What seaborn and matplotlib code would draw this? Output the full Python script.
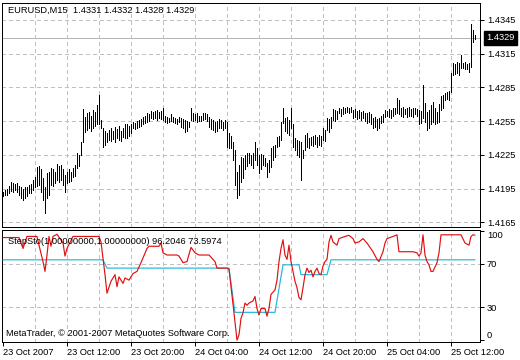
import numpy as np
import pandas as pd
import matplotlib
matplotlib.use("Agg")
import matplotlib.pyplot as plt
import seaborn as sns
from matplotlib.transforms import blended_transform_factory

# ---------------- data (EURUSD M15, one bar per 15 minutes) ----------------
bar_high = [
    1.4192, 1.4194, 1.4195, 1.4197, 1.4201, 1.4200, 1.4199, 1.4200, 1.4197, 1.4196,
    1.4195, 1.4196, 1.4196, 1.4198, 1.4199, 1.4203, 1.4205, 1.4214, 1.4215, 1.4212,
    1.4204, 1.4196, 1.4209, 1.4210, 1.4213, 1.4212, 1.4210, 1.4217, 1.4215, 1.4216,
    1.4212, 1.4207, 1.4210, 1.4212, 1.4210, 1.4213, 1.4216, 1.4227, 1.4225, 1.4236,
    1.4266, 1.4259, 1.4262, 1.4263, 1.4260, 1.4265, 1.4263, 1.4269, 1.4278, 1.4256,
    1.4249, 1.4246, 1.4244, 1.4247, 1.4249, 1.4246, 1.4250, 1.4248, 1.4251, 1.4246,
    1.4249, 1.4252, 1.4252, 1.4251, 1.4252, 1.4254, 1.4253, 1.4255, 1.4256, 1.4257,
    1.4259, 1.4260, 1.4262, 1.4261, 1.4264, 1.4263, 1.4264, 1.4265, 1.4263, 1.4264,
    1.4267, 1.4260, 1.4259, 1.4258, 1.4261, 1.4259, 1.4258, 1.4257, 1.4259, 1.4258,
    1.4257, 1.4256, 1.4255, 1.4254, 1.4267, 1.4262, 1.4261, 1.4262, 1.4260, 1.4260,
    1.4262, 1.4262, 1.4261, 1.4259, 1.4257, 1.4256, 1.4254, 1.4255, 1.4257, 1.4256,
    1.4254, 1.4256, 1.4254, 1.4244, 1.4242, 1.4236, 1.4229, 1.4210, 1.4216, 1.4223,
    1.4222, 1.4225, 1.4227, 1.4227, 1.4225, 1.4227, 1.4236, 1.4231, 1.4225, 1.4226,
    1.4225, 1.4222, 1.4218, 1.4220, 1.4231, 1.4233, 1.4234, 1.4241, 1.4242, 1.4254,
    1.4267, 1.4258, 1.4259, 1.4256, 1.4267, 1.4252, 1.4240, 1.4238, 1.4237, 1.4236,
    1.4229, 1.4243, 1.4244, 1.4240, 1.4241, 1.4242, 1.4243, 1.4241, 1.4243, 1.4242,
    1.4249, 1.4247, 1.4258, 1.4257, 1.4259, 1.4266, 1.4265, 1.4264, 1.4267, 1.4266,
    1.4268, 1.4267, 1.4268, 1.4267, 1.4268, 1.4265, 1.4266, 1.4264, 1.4265, 1.4263,
    1.4264, 1.4262, 1.4262, 1.4263, 1.4261, 1.4258, 1.4259, 1.4257, 1.4258, 1.4260,
    1.4261, 1.4265, 1.4264, 1.4266, 1.4265, 1.4267, 1.4267, 1.4276, 1.4274, 1.4267,
    1.4268, 1.4266, 1.4267, 1.4268, 1.4266, 1.4267, 1.4267, 1.4266, 1.4265, 1.4264,
    1.4287, 1.4271, 1.4263, 1.4265, 1.4269, 1.4272, 1.4267, 1.4263, 1.4270, 1.4277,
    1.4278, 1.4280, 1.4281, 1.4282, 1.4298, 1.4307, 1.4306, 1.4308, 1.4307, 1.4314,
    1.4307, 1.4308, 1.4306, 1.4307, 1.4341, 1.4336, 1.4332,
]
bar_low = [
    1.4188, 1.4189, 1.4189, 1.4191, 1.4193, 1.4192, 1.4194, 1.4192, 1.4189, 1.4187,
    1.4185, 1.4187, 1.4188, 1.4191, 1.4191, 1.4194, 1.4196, 1.4197, 1.4198, 1.4192,
    1.4185, 1.4173, 1.4187, 1.4189, 1.4198, 1.4197, 1.4200, 1.4203, 1.4201, 1.4203,
    1.4198, 1.4192, 1.4200, 1.4201, 1.4202, 1.4205, 1.4206, 1.4213, 1.4215, 1.4225,
    1.4236, 1.4245, 1.4247, 1.4249, 1.4246, 1.4249, 1.4251, 1.4252, 1.4252, 1.4249,
    1.4232, 1.4234, 1.4236, 1.4238, 1.4237, 1.4239, 1.4236, 1.4240, 1.4238, 1.4237,
    1.4241, 1.4240, 1.4240, 1.4242, 1.4244, 1.4249, 1.4248, 1.4249, 1.4250, 1.4251,
    1.4252, 1.4253, 1.4254, 1.4255, 1.4258, 1.4257, 1.4258, 1.4256, 1.4258, 1.4257,
    1.4256, 1.4254, 1.4253, 1.4254, 1.4255, 1.4254, 1.4253, 1.4252, 1.4254, 1.4250,
    1.4249, 1.4245, 1.4246, 1.4250, 1.4256, 1.4255, 1.4256, 1.4254, 1.4255, 1.4255,
    1.4256, 1.4257, 1.4255, 1.4250, 1.4248, 1.4247, 1.4245, 1.4246, 1.4249, 1.4249,
    1.4247, 1.4249, 1.4232, 1.4231, 1.4231, 1.4220, 1.4198, 1.4187, 1.4189, 1.4201,
    1.4204, 1.4212, 1.4215, 1.4218, 1.4216, 1.4213, 1.4220, 1.4216, 1.4209, 1.4212,
    1.4216, 1.4215, 1.4205, 1.4210, 1.4214, 1.4220, 1.4223, 1.4232, 1.4233, 1.4238,
    1.4253, 1.4246, 1.4244, 1.4243, 1.4249, 1.4232, 1.4229, 1.4225, 1.4223, 1.4203,
    1.4222, 1.4229, 1.4232, 1.4231, 1.4234, 1.4233, 1.4235, 1.4232, 1.4234, 1.4233,
    1.4238, 1.4237, 1.4247, 1.4245, 1.4249, 1.4256, 1.4255, 1.4257, 1.4262, 1.4260,
    1.4261, 1.4262, 1.4263, 1.4262, 1.4263, 1.4258, 1.4259, 1.4257, 1.4258, 1.4256,
    1.4258, 1.4255, 1.4253, 1.4254, 1.4252, 1.4249, 1.4250, 1.4247, 1.4249, 1.4253,
    1.4254, 1.4259, 1.4260, 1.4259, 1.4258, 1.4260, 1.4261, 1.4262, 1.4261, 1.4260,
    1.4259, 1.4261, 1.4259, 1.4260, 1.4260, 1.4259, 1.4261, 1.4260, 1.4252, 1.4253,
    1.4258, 1.4254, 1.4247, 1.4249, 1.4252, 1.4254, 1.4252, 1.4253, 1.4254, 1.4265,
    1.4267, 1.4274, 1.4275, 1.4274, 1.4281, 1.4296, 1.4297, 1.4298, 1.4296, 1.4302,
    1.4302, 1.4301, 1.4301, 1.4299, 1.4303, 1.4325, 1.4328,
]
last_close = 1.4329
price_ticks = [1.4345, 1.4315, 1.4285, 1.4255, 1.4225, 1.4195, 1.4165]

# StepSto fast line (red) and slow step line (cyan): (bar index, value)
red_bar = [0, 8, 10, 12, 17, 18, 20, 21, 22, 23, 24, 25, 27, 30, 31, 32, 35, 48, 49, 51,
           52, 54, 56, 57, 58, 60, 61, 63, 65, 67, 69, 72, 73, 78, 79, 80, 82, 87, 88, 90,
           92, 94, 96, 98, 103, 106, 107, 112, 113, 115, 117, 118, 119, 120, 121, 122, 123, 125, 126, 127,
           128, 129, 131, 132, 133, 134, 136, 137, 138, 139, 140, 141, 142, 143, 144, 145, 146, 147, 148, 149,
           150, 151, 152, 153, 154, 155, 156, 157, 158, 159, 160, 161, 162, 163, 164, 165, 167, 168, 171, 173,
           175, 176, 178, 180, 182, 185, 187, 188, 190, 191, 192, 195, 197, 198, 205, 207, 208, 209, 210, 211,
           212, 213, 214, 215, 216, 217, 218, 219, 229, 231, 233, 234, 235, 236]
red_val = [94, 94, 84, 95, 95, 87, 72, 63, 78, 95, 86, 95, 97, 89, 77, 84, 95, 95, 90, 60,
           43, 54, 60, 49, 58, 52, 57, 55, 61, 63, 71, 84, 86, 86, 89, 80, 78, 78, 77, 71,
           72, 85, 80, 78, 78, 72, 66, 66, 65, 33, 0, 5, 20, 25, 34, 32, 34, 36, 40, 29,
           23, 29, 29, 22, 29, 42, 46, 55, 72, 84, 92, 78, 74, 87, 72, 63, 54, 48, 39, 37,
           48, 60, 66, 62, 64, 58, 63, 66, 61, 60, 68, 72, 74, 90, 96, 90, 87, 93, 95, 96,
           93, 89, 90, 93, 89, 81, 74, 72, 81, 89, 93, 95, 96.5, 81, 81, 80, 77, 80, 96.5, 78,
           72, 69, 63, 63, 67, 71, 80, 96.5, 96.5, 89, 87, 95, 96.5, 96.2046]
cyan_bar = [0, 50, 52, 113, 116, 136, 140, 148, 149, 162, 164, 236]
cyan_val = [73.6, 73.6, 66, 66, 25.5, 25.5, 69, 69, 60, 60, 73.5974, 73.5974]
osc_levels = [100, 70, 30, 0]

time_labels = ["23 Oct 2007", "23 Oct 12:00", "23 Oct 20:00", "24 Oct 04:00",
               "24 Oct 12:00", "24 Oct 20:00", "25 Oct 04:00", "25 Oct 12:00"]
time_label_bars = [0, 32, 64, 96, 128, 160, 192, 224]

title_main = "EURUSD,M15  1.4331 1.4332 1.4328 1.4329"
title_osc = "StepSto(1.00000000,1.00000000) 96.2046 73.5974"
copyright_txt = "MetaTrader, \u00a9 2001-2007 MetaQuotes Software Corp."

# ---------------- style ----------------
sns.set_theme(style="white")
plt.rcParams["font.family"] = ["Liberation Sans", "DejaVu Sans"]
FS = 6.7
PX = 0.72  # one pixel in points at 100 dpi
GRID = "#c0c0c0"
RED = "#e01010"
CYAN = "#20b8d8"

W, H = 520, 360
fig = plt.figure(figsize=(W / 100, H / 100), dpi=100)
fig.patch.set_facecolor("white")
ax1 = fig.add_axes([2 / W, 1 - 227 / H, 478 / W, 224 / H])
ax2 = fig.add_axes([2 / W, 1 - 342 / H, 478 / W, 112 / H])

n = len(bar_high)
xs = np.arange(n)
xmin, xmax = -0.5, 238.5
grid_bars = np.arange(16, 239, 16)

for ax in (ax1, ax2):
    ax.set_facecolor("white")
    ax.set_xlim(xmin, xmax)
    for s in ax.spines.values():
        s.set_color("black")
        s.set_linewidth(PX)
        s.set_visible(True)
    for gx in grid_bars:
        ax.axvline(gx, color=GRID, lw=PX, ls=(0, (4, 3)), zorder=0, antialiased=False)

# ---- main price panel ----
ax1.set_ylim(1.41608, 1.43601)
for p in price_ticks:
    ax1.axhline(p, color=GRID, lw=PX, ls=(0, (4, 3)), zorder=0, antialiased=False)
ax1.axhline(last_close, color="#b4b4b4", lw=PX, zorder=0.5, antialiased=False)
ax1.vlines(xs, bar_low, bar_high, colors="black", lw=PX, antialiased=False, zorder=2)

ax1.yaxis.tick_right()
ax1.set_yticks(price_ticks)
ax1.set_yticklabels([f"{p:.4f}" for p in price_ticks])
ax1.tick_params(axis="y", right=True, left=False, length=3, width=PX, color="black",
                pad=2, labelsize=FS, labelcolor="black")
ax1.tick_params(axis="x", bottom=False, labelbottom=False)
ax1.set_xticks([])
ax1.grid(False)

tr = blended_transform_factory(ax1.transAxes, ax1.transData)
ax1.text(1 + 6 / 478, last_close, f"{last_close:.4f}", transform=tr, ha="left", va="center",
         fontsize=FS, color="white",
         bbox=dict(boxstyle="square,pad=0.25", fc="black", ec="black"), zorder=5, clip_on=False)

fig.text(8 / W, 1 - 10 / H, title_main, fontsize=FS, color="black", ha="left", va="center")

# ---- oscillator panel ----
for lv in (70, 30):
    ax2.axhline(lv, color=GRID, lw=PX, ls=(0, (4, 3)), zorder=0, antialiased=False)

osc_red = pd.DataFrame({"bar": red_bar, "value": red_val})
osc_cyan = pd.DataFrame({"bar": cyan_bar, "value": cyan_val})
sns.lineplot(data=osc_cyan, x="bar", y="value", ax=ax2, color=CYAN, lw=0.85, estimator=None,
             sort=False, zorder=3)
sns.lineplot(data=osc_red, x="bar", y="value", ax=ax2, color=RED, lw=0.85, estimator=None,
             sort=False, zorder=4)
ax2.set_xlim(xmin, xmax)
ax2.set_ylim(-1.65, 100.9)
ax2.set_xlabel("")
ax2.set_ylabel("")

ax2.yaxis.tick_right()
ax2.set_yticks(osc_levels)
ax2.set_yticklabels([str(v) for v in osc_levels])
ax2.tick_params(axis="y", right=True, left=False, length=3, width=PX, color="black",
                pad=2, labelsize=FS, labelcolor="black")
for lab, lv in zip(ax2.get_yticklabels(), osc_levels):
    if lv == 100:
        lab.set_va("top")
    elif lv == 0:
        lab.set_va("bottom")

ax2.set_xticks(time_label_bars)
ax2.set_xticklabels(time_labels)
ax2.tick_params(axis="x", bottom=True, length=3, width=PX, color="black", pad=1.5,
                labelsize=FS, labelcolor="black")
for lab in ax2.get_xticklabels():
    lab.set_ha("left")
ax2.grid(False)

fig.text(8 / W, 1 - 241 / H, title_osc, fontsize=FS, color="black", ha="left", va="center")
fig.text(6 / W, 1 - 334 / H, copyright_txt, fontsize=FS, color="black", ha="left", va="center")

fig.savefig("out.png", dpi=100, facecolor="white")
